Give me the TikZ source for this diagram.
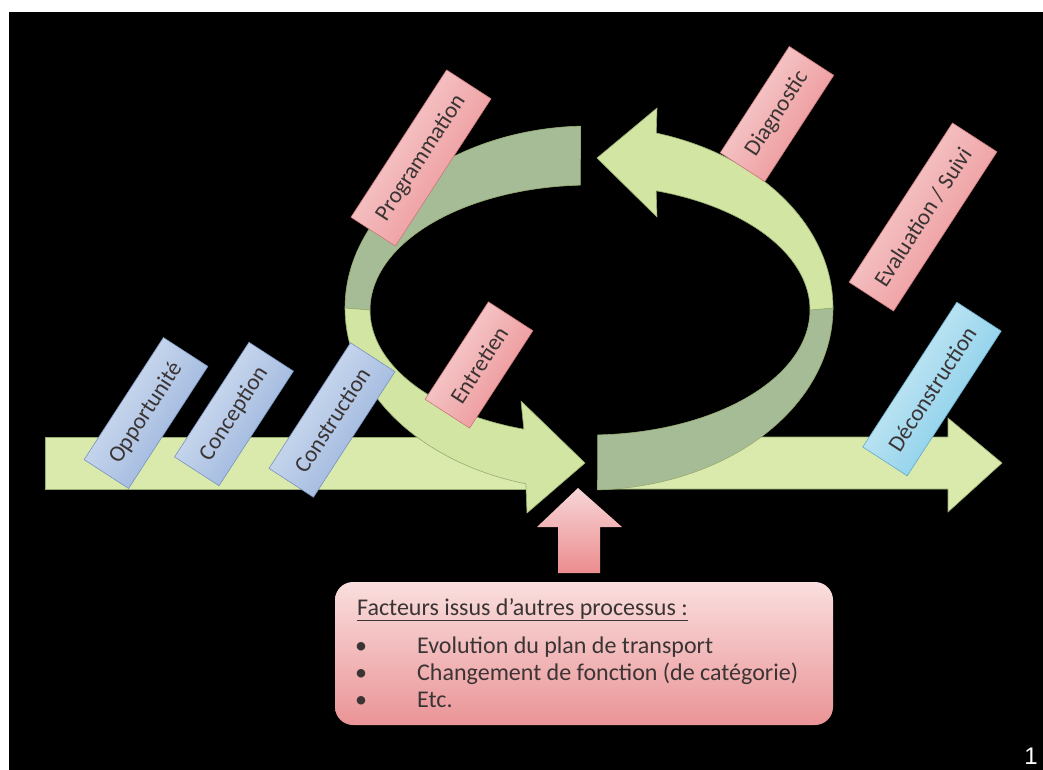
\documentclass[tikz,border=0pt]{standalone}
\usepackage{fontspec}
\setmainfont{Carlito}
\newfontfamily\numfont{Liberation Sans}

\definecolor{lineGreen}{RGB}{218,233,172}
\definecolor{loopLight}{RGB}{210,229,163}
\definecolor{loopDark}{RGB}{166,188,150}
\definecolor{loopEdge}{RGB}{150,172,112}
\definecolor{pinkTop}{RGB}{247,214,215}
\definecolor{pinkBot}{RGB}{236,140,143}
\definecolor{pinkEdge}{RGB}{200,120,122}
\definecolor{blueTop}{RGB}{218,228,243}
\definecolor{blueBot}{RGB}{146,174,218}
\definecolor{blueEdge}{RGB}{120,146,190}
\definecolor{cyanTop}{RGB}{214,238,246}
\definecolor{cyanBot}{RGB}{120,200,232}
\definecolor{cyanEdge}{RGB}{100,170,200}
\definecolor{labelText}{RGB}{58,52,52}
\definecolor{boxTop}{RGB}{250,222,222}
\definecolor{boxBot}{RGB}{234,148,150}

\begin{document}
\begin{tikzpicture}[x=1pt,y=-1pt,
  stage/.style={rotate=57, inner xsep=15pt, inner ysep=0pt, minimum height=53pt,
    font=\fontsize{23}{27}\selectfont, text=labelText, line width=0.6pt},
  bluestage/.style={stage, top color=blueTop, bottom color=blueBot, shading angle=57, draw=blueEdge},
  pinkstage/.style={stage, top color=pinkTop, bottom color=pinkBot, shading angle=57, draw=pinkEdge},
  cyanstage/.style={stage, top color=cyanTop, bottom color=cyanBot, shading angle=57, draw=cyanEdge},
  band/.style={draw=loopEdge, line width=0.6pt, line join=round},
  facttext/.style={anchor=base west, inner sep=0pt, text=labelText,
    font=\fontsize{24}{28}\selectfont}
]
% frame and background
\fill[white] (0,0) rectangle (1043,770);
\fill[black] (9,12) rectangle (1043,770);

% main horizontal arrow (two stretches, split by the loop)
\fill[lineGreen, draw=loopEdge, line width=0.6pt] (45,437) rectangle (548,489);
\fill[lineGreen, draw=loopEdge, line width=0.6pt]
  (600,437) -- (948,437) -- (948,418) -- (1002,463) -- (948,512) -- (948,489) -- (600,489) -- cycle;

% back faces of the loop
\fill[loopDark, band]
  plot[domain=268:180, samples=50, variable=\t] ({589+244*cos(\t)},{308+182*sin(\t)})
  -- plot[domain=180:267.5, samples=50, variable=\t] ({590+220*cos(\t)},{310+125*sin(\t)})
  -- cycle;
\fill[loopDark, band]
  plot[domain=0:88, samples=50, variable=\t] ({589+244*cos(\t)},{308+182*sin(\t)})
  -- plot[domain=88:0, samples=50, variable=\t] ({590+220*cos(\t)},{310+125*sin(\t)})
  -- cycle;

% front faces of the loop with their heads
\fill[loopLight, band]
  plot[domain=180:105, samples=50, variable=\t] ({589+244*cos(\t)},{308+182*sin(\t)})
  -- (527,513) -- (585,463) -- (521,401)
  -- plot[domain=107.5:180, samples=50, variable=\t] ({590+220*cos(\t)},{310+125*sin(\t)})
  -- cycle;
\fill[loopLight, band]
  plot[domain=360:286, samples=50, variable=\t] ({589+244*cos(\t)},{308+182*sin(\t)})
  -- (657,108) -- (597,158) -- (657,217)
  -- plot[domain=287.5:360, samples=50, variable=\t] ({590+220*cos(\t)},{310+125*sin(\t)})
  -- cycle;

% stage labels
\node[bluestage] (opportunite) at (146,413) {Opportunité};
\node[bluestage] (conception) at (234,414) {Conception};
\node[bluestage] (construction) at (332,420) {Construction};
\node[pinkstage] (entretien) at (479,365) {Entretien};
\node[pinkstage] (programmation) at (421,158) {Programmation};
\node[pinkstage] (diagnostic) at (777,114) {Diagnostic};
\node[pinkstage] (evaluation) at (923,217) {Evaluation / Suivi};
\node[cyanstage] (deconstruction) at (932,389) {Déconstruction};

% external factors
\shade[top color=pinkTop, bottom color=pinkBot]
  (578,488) -- (622,527) -- (600,527) -- (600,573) -- (558,573) -- (558,527) -- (537,527) -- cycle;
\shade[rounded corners=18pt, top color=boxTop, bottom color=boxBot] (335,582) rectangle (833,725);
\node[facttext] (facttitle) at (357,615) {\underline{Facteurs issus d{\char"0027}autres processus :}};
\node[facttext] (b1) at (355,653) {\textbullet};
\node[facttext] (b2) at (355,680) {\textbullet};
\node[facttext] (b3) at (355,707) {\textbullet};
\node[facttext] (f1) at (417,653) {Evolution du plan de transport};
\node[facttext] (f2) at (417,680) {Changement de fonction (de catégorie)};
\node[facttext] (f3) at (417,707) {Etc.};

% page number
\node[text=white, font=\numfont\fontsize{24}{28}\selectfont, anchor=base, inner sep=0pt] (pagenum) at (1031,764) {1};
\end{tikzpicture}
\end{document}
